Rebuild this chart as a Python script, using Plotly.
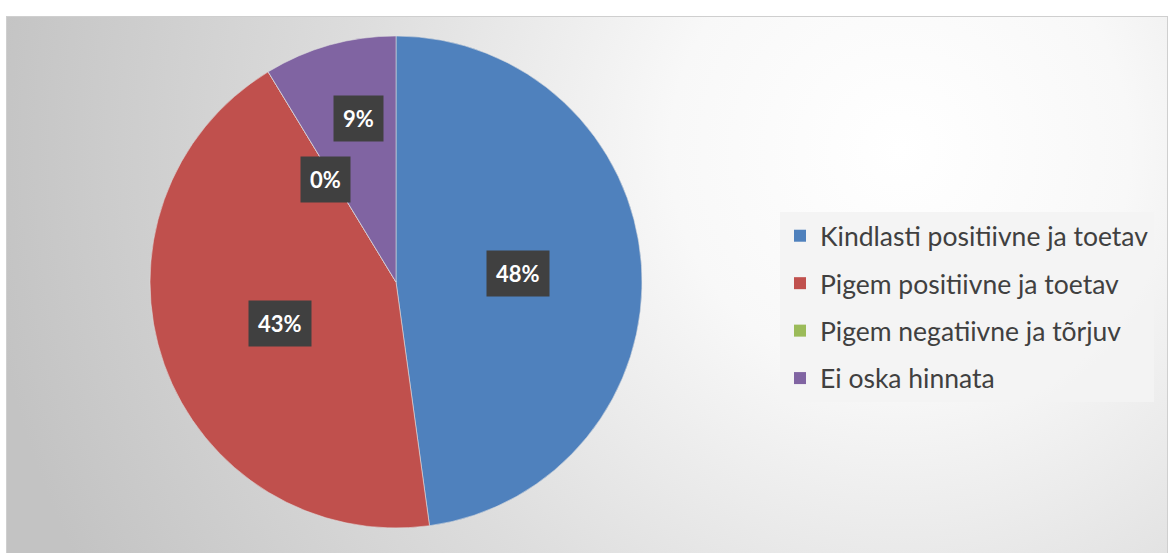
import math
import base64
import plotly.graph_objects as go

# ---- data ----
categories = ["Kindlasti positiivne ja toetav", "Pigem positiivne ja toetav",
              "Pigem negatiivne ja tõrjuv", "Ei oska hinnata"]
values = [11, 10, 0, 2]
pct_labels = ["48%", "43%", "0%", "9%"]

# ---- style ----
colors = ["#4F81BD", "#C0504D", "#9BBB59", "#8064A2"]
label_radius = [0.496, 0.50, 0.505, 0.68]   # fraction of pie radius for each label
label_shift_deg = [0, 0, -3.5, 2.85]        # angular nudges (Excel overlap avoidance)

W, H = 1173, 553
dom_x = [150 / W, 642 / W]
dom_y = [(H - 528) / H, (H - 36) / H]

# background gradient (chart area)
svg = f'''<svg xmlns="http://www.w3.org/2000/svg" width="{W}" height="{H}">
<defs><radialGradient id="g" gradientUnits="userSpaceOnUse" cx="900" cy="150" r="920">
<stop offset="0" stop-color="#ffffff"/><stop offset="0.25" stop-color="#f8f8f8"/>
<stop offset="0.6" stop-color="#dddddd"/><stop offset="1" stop-color="#c3c3c3"/></radialGradient></defs>
<rect x="6.5" y="16.5" width="{W-12}" height="{H}" fill="url(#g)" stroke="#cfcfcf" stroke-width="1"/>
</svg>'''
bg_src = "data:image/svg+xml;base64," + base64.b64encode(svg.encode()).decode()

fig = go.Figure()
fig.add_trace(go.Pie(
    labels=categories, values=values, sort=False, direction="clockwise", rotation=0,
    marker=dict(colors=colors, line=dict(color="rgba(225,225,225,0.8)", width=0.7)),
    textinfo="none", hoverinfo="label+percent", domain=dict(x=dom_x, y=dom_y),
    showlegend=False,
))

# legend entries (square markers), one group each for Excel-like spacing
for i, c in enumerate(categories):
    fig.add_trace(go.Scatter(x=[None], y=[None], mode="markers", name=c,
                             marker=dict(symbol="square", size=16, color=colors[i]),
                             legendgroup=f"g{i}", showlegend=True, hoverinfo="skip"))

# label annotations computed from data
total = sum(values)
cx = (dom_x[0] + dom_x[1]) / 2
cy = (dom_y[0] + dom_y[1]) / 2
R = min((dom_x[1] - dom_x[0]) * W, (dom_y[1] - dom_y[0]) * H) / 2
cum = 0
for i, v in enumerate(values):
    mid = (cum + v / 2) / total * 360 + label_shift_deg[i]
    cum += v
    a = math.radians(mid)
    r = R * label_radius[i]
    x = cx + r * math.sin(a) / W
    y = cy + r * math.cos(a) / H
    fig.add_annotation(x=x, y=y, xref="paper", yref="paper", text=f"<b>{pct_labels[i]}</b>",
                       xanchor="center", yanchor="middle",
                       showarrow=False, bgcolor="#404040", borderpad=9,
                       font=dict(family="Lato, Open Sans, sans-serif", size=22, color="white"))

fig.update_layout(
    width=W, height=H,
    margin=dict(l=0, r=0, t=0, b=0),
    paper_bgcolor="white", plot_bgcolor="rgba(0,0,0,0)",
    xaxis=dict(visible=False), yaxis=dict(visible=False),
    images=[dict(source=bg_src, xref="paper", yref="paper", x=0, y=1, sizex=1, sizey=1,
                 xanchor="left", yanchor="top", sizing="stretch", layer="below")],
    legend=dict(x=780 / W, y=(H - 212) / H, xanchor="left", yanchor="top",
                bgcolor="rgba(243,243,243,0.92)", borderwidth=0,
                font=dict(family="Lato, Open Sans, sans-serif", size=26.5, color="#404040"),
                itemsizing="constant", tracegroupgap=10),
)

fig.write_html("out.html", config={"displayModeBar": False})
with open("out.html", encoding="utf-8") as f:
    html = f.read()
html = html.replace("<body>", '<body style="margin:0;padding:0">', 1)
with open("out.html", "w", encoding="utf-8") as f:
    f.write(html)
